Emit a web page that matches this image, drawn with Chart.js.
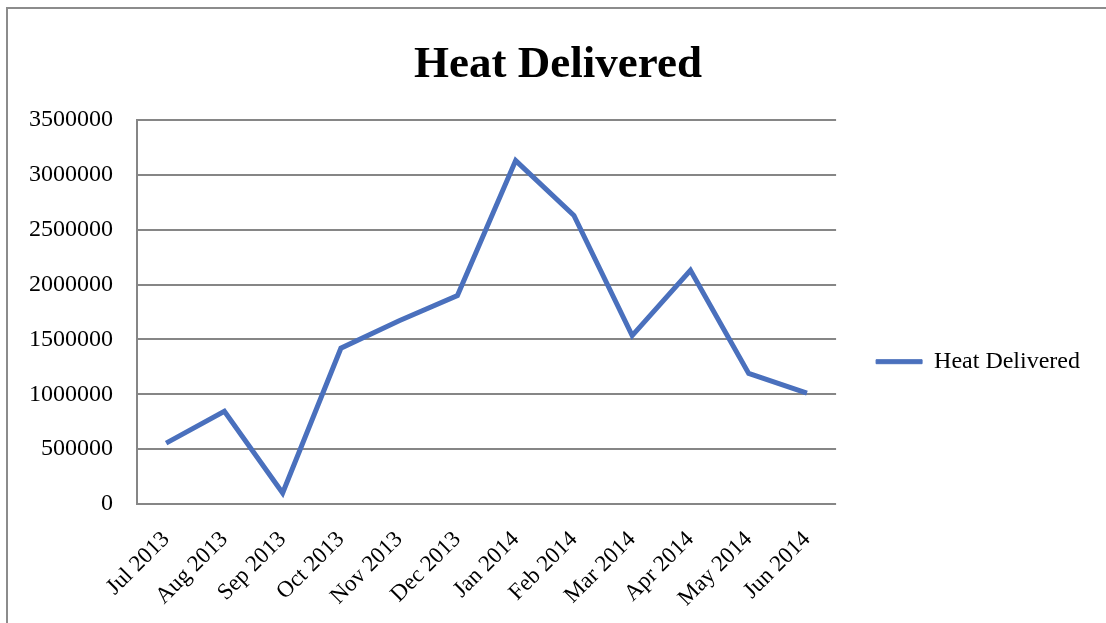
<!DOCTYPE html>
<html>
<head>
<meta charset="utf-8">
<script src="https://cdn.jsdelivr.net/npm/chart.js@4"></script>
<style>
  body { margin: 0; background: #fff; overflow: hidden; }
  #frame { position: absolute; left: 6px; top: 7px; width: 1200px; height: 700px;
           border: 2px solid #8c8c8c; box-sizing: border-box; }
  #wrap { position: absolute; left: 0; top: 0; width: 1106px; height: 623px; }
</style>
</head>
<body>
<div id="frame"></div>
<div id="wrap"><canvas id="myChart" width="1106" height="623"></canvas></div>
<script>
// heat delivered per month
const months = ['Jul 2013', 'Aug 2013', 'Sep 2013', 'Oct 2013', 'Nov 2013', 'Dec 2013',
                'Jan 2014', 'Feb 2014', 'Mar 2014', 'Apr 2014', 'May 2014', 'Jun 2014'];
const heat = [555000, 845000, 100000, 1420000, 1670000, 1900000,
              3130000, 2630000, 1535000, 2130000, 1190000, 1010000];
const yMax = 3500000;
const yStep = 500000;

const serif = 'Liberation Serif';
const blue = '#4A70BD';

const ctx = document.getElementById('myChart').getContext('2d');

new Chart(ctx, {
    type: 'line',
    data: {
        labels: months,
        datasets: [{
            label: 'Heat Delivered',
            data: heat,
            borderColor: blue,
            backgroundColor: blue,
            borderWidth: 5,
            pointRadius: 0,
            tension: 0,
            fill: false
        }]
    },
    options: {
        responsive: false,
        animation: false,
        layout: { padding: { left: 26, right: 16, bottom: 4 } },
        plugins: {
            title: {
                display: true,
                text: 'Heat Delivered',
                color: '#000',
                font: { family: serif, size: 45, weight: 'bold' },
                padding: { top: 38, bottom: 28 }
            },
            legend: {
                position: 'right',
                // empty legend title just pushes the entry down
                title: { display: true, text: '', padding: 45 },
                labels: {
                    color: '#000',
                    font: { family: serif, size: 24 },
                    boxWidth: 46,
                    boxHeight: 4,
                    padding: 40,
                    generateLabels: chart =>
                        Chart.defaults.plugins.legend.labels.generateLabels(chart)
                            .map(l => ({ ...l, lineWidth: 1 }))
                }
            },
            tooltip: { enabled: false }
        },
        scales: {
            x: {
                offset: true,
                grid: { display: false, drawTicks: false },
                border: { display: false },
                ticks: {
                    color: '#000',
                    font: { family: serif, size: 23 },
                    minRotation: 45,
                    maxRotation: 45,
                    padding: 22,
                    autoSkip: false
                },
                afterFit: scale => { scale.height = 115; }
            },
            y: {
                min: 0,
                max: yMax,
                grid: { color: '#868686', lineWidth: 2, drawTicks: false },
                border: { display: true, color: '#868686', width: 2 },
                ticks: {
                    stepSize: yStep,
                    color: '#000',
                    font: { family: serif, size: 24 },
                    padding: 24,
                    callback: v => String(v)
                },
                afterFit: scale => { scale.width = 111; }
            }
        }
    }
});
</script>
</body>
</html>
